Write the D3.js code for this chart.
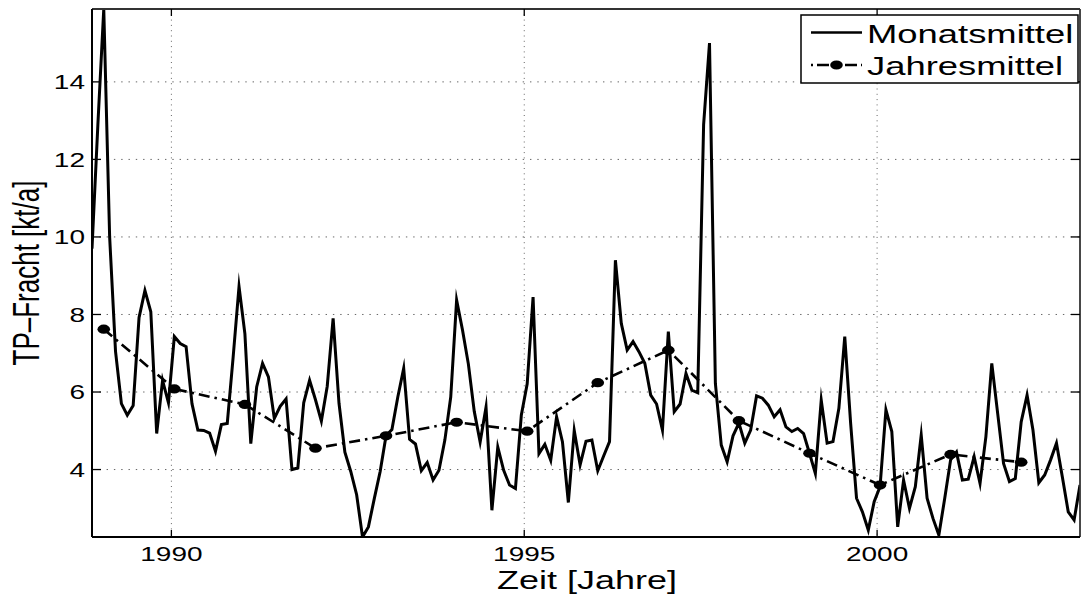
<!DOCTYPE html>
<html><head><meta charset="utf-8">
<script src="https://cdn.jsdelivr.net/npm/d3@7"></script>
<style>body{margin:0;background:#fff}svg{display:block}</style>
</head><body>
<svg id="c" width="1081" height="594"></svg>
<script>
// ---- data ----
const monthStart = 1988.875; // first monthly value (Nov 1988, mid-month)
const monthly = [
  9.7, 12.9, 15.88, 10.0, 7.05, 5.7, 5.4, 5.65, 7.92, 8.62, 8.07, 4.93,
  6.3, 5.72, 7.43, 7.25, 7.17, 5.7, 5.02, 5.01, 4.94, 4.47, 5.16, 5.19,
  6.9, 8.72, 7.5, 4.67, 6.13, 6.74, 6.39, 5.32, 5.63, 5.82, 4.0, 4.04,
  5.72, 6.3, 5.8, 5.25, 6.15, 7.9, 5.71, 4.45, 3.95, 3.35, 2.26, 2.52,
  3.25, 3.95, 4.87, 5.03, 5.87, 6.61, 4.78, 4.66, 3.97, 4.18, 3.73, 3.98,
  4.76, 5.87, 8.37, 7.6, 6.72, 5.5, 4.71, 5.61, 2.95, 4.58, 3.98, 3.6,
  3.51, 5.4, 6.21, 8.45, 4.41, 4.65, 4.24, 5.36, 4.71, 3.15, 5.01, 4.12,
  4.73, 4.76, 3.97, 4.35, 4.72, 9.4, 7.77, 7.08, 7.3, 7.04, 6.74, 5.92,
  5.69, 5.02, 7.56, 5.49, 5.69, 6.48, 6.05, 5.98, 12.9, 15.0, 6.22, 4.63,
  4.2, 4.87, 5.2, 4.68, 5.02, 5.9, 5.84, 5.66, 5.36, 5.54, 5.1, 4.98,
  5.06, 4.93, 4.42, 3.9, 5.79, 4.68, 4.72, 5.58, 7.43, 5.19, 3.26, 2.91,
  2.44, 3.17, 3.56, 5.54, 4.98, 2.52, 3.73, 3.0, 3.56, 4.89, 3.26, 2.74,
  2.31, 3.26, 4.25, 4.45, 3.73, 3.75, 4.33, 3.64, 4.85, 6.74, 5.45, 4.16,
  3.69, 3.77, 5.23, 5.92, 5.02, 3.66, 3.86, 4.25, 4.68, 3.81, 2.91, 2.7,
  3.6
];
const years = [1989,1990,1991,1992,1993,1994,1995,1996,1997,1998,1999,2000,2001,2002];
const annual = [7.62,6.08,5.68,4.55,4.87,5.22,4.99,6.24,7.08,5.26,4.42,3.60,4.39,4.19];
const xTicks = [1990,1995,2000];
const yTicks = [4,6,8,10,12,14];
const legendLabels = ["Monatsmittel","Jahresmittel"];
const xLabel = "Zeit [Jahre]";
const yLabel = "TP\u2013Fracht [kt/a]";

// ---- layout ----
const L=92, R=1080, T=9, B=537;
const SX=1.4; // horizontal text stretch
const FONT = "'Liberation Sans', Arial, Helvetica, sans-serif";

const mData = monthly.map((v,i)=>({t: monthStart + i/12, v}));
const aData = annual.map((v,i)=>({t: years[i] + 0.5/12, v}));

const x = d3.scaleLinear().domain(d3.extent(mData,d=>d.t)).range([L,R]);
const y = d3.scaleLinear().domain(d3.extent(monthly)).range([B,T]);

const svg = d3.select("#c");
svg.append("rect").attr("width",1081).attr("height",594).attr("fill","#fff");
svg.append("defs").append("clipPath").attr("id","clip")
  .append("rect").attr("x",L).attr("y",T).attr("width",R-L).attr("height",B-T);

// grid
const grid = svg.append("g");
grid.selectAll(".gx").data(xTicks).join("line")
  .attr("x1",d=>x(d)).attr("x2",d=>x(d)).attr("y1",T).attr("y2",B)
  .attr("stroke","#666").attr("stroke-width",1).attr("stroke-dasharray","1,4.3");
grid.selectAll(".gy").data(yTicks).join("line")
  .attr("y1",d=>y(d)).attr("y2",d=>y(d)).attr("x1",L).attr("x2",R)
  .attr("stroke","#666").attr("stroke-width",1).attr("stroke-dasharray","1.4,5.9");

// data
const plot = svg.append("g").attr("clip-path","url(#clip)");
plot.append("path").datum(mData)
  .attr("d", d3.line().x(d=>x(d.t)).y(d=>y(d.v)))
  .attr("fill","none").attr("stroke","#000").attr("stroke-width",3)
  .attr("stroke-linejoin","miter").attr("stroke-miterlimit",10);
plot.append("path").datum(aData)
  .attr("d", d3.line().x(d=>x(d.t)).y(d=>y(d.v)))
  .attr("fill","none").attr("stroke","#000").attr("stroke-width",2.6)
  .attr("stroke-dasharray","11,5,2.5,5");
plot.selectAll(".mk").data(aData).join("ellipse")
  .attr("cx",d=>x(d.t)).attr("cy",d=>y(d.v)).attr("rx",6.3).attr("ry",4.6)
  .attr("fill","#000");

// axes box
const ax = svg.append("g");
ax.append("line").attr("x1",L).attr("x2",R).attr("y1",T).attr("y2",T).attr("stroke","#333").attr("stroke-width",1.8);
ax.append("line").attr("x1",R).attr("x2",R).attr("y1",T).attr("y2",B).attr("stroke","#333").attr("stroke-width",1.8);
ax.append("line").attr("x1",L).attr("x2",R).attr("y1",B).attr("y2",B).attr("stroke","#000").attr("stroke-width",2);
ax.append("line").attr("x1",L).attr("x2",L).attr("y1",T).attr("y2",B).attr("stroke","#000").attr("stroke-width",2);

// ticks (inward, all four sides)
xTicks.forEach(v=>{
  ax.append("line").attr("x1",x(v)).attr("x2",x(v)).attr("y1",B).attr("y2",B-7).attr("stroke","#000").attr("stroke-width",1.3);
  ax.append("line").attr("x1",x(v)).attr("x2",x(v)).attr("y1",T).attr("y2",T+7).attr("stroke","#000").attr("stroke-width",1.3);
});
yTicks.forEach(v=>{
  ax.append("line").attr("x1",L).attr("x2",L+9).attr("y1",y(v)).attr("y2",y(v)).attr("stroke","#000").attr("stroke-width",1.3);
  ax.append("line").attr("x1",R).attr("x2",R-9).attr("y1",y(v)).attr("y2",y(v)).attr("stroke","#000").attr("stroke-width",1.3);
});

// tick labels
svg.append("g").selectAll("text").data(xTicks).join("text")
  .attr("transform",d=>`translate(${x(d)},560.5) scale(${SX},1)`)
  .attr("text-anchor","middle").attr("font-family",FONT).attr("font-size",20)
  .attr("fill","#000").text(d=>d);
svg.append("g").selectAll("text").data(yTicks).join("text")
  .attr("transform",d=>`translate(85,${y(d)+7.2}) scale(${SX},1)`)
  .attr("text-anchor","end").attr("font-family",FONT).attr("font-size",20)
  .attr("fill","#000").text(d=>d);

// axis labels
svg.append("text").attr("transform",`translate(587,588.5) scale(1.44,1)`)
  .attr("text-anchor","middle").attr("font-family",FONT).attr("font-size",25)
  .attr("fill","#000").text(xLabel);
svg.append("text").attr("transform",`translate(38.5,${(T+B)/2}) scale(${SX},1) rotate(-90)`)
  .attr("text-anchor","middle").attr("font-family",FONT).attr("font-size",26)
  .attr("fill","#000").text(yLabel);

// legend
const lg = svg.append("g");
lg.append("rect").attr("x",801).attr("y",15).attr("width",277).attr("height",68)
  .attr("fill","#fff").attr("stroke","#000").attr("stroke-width",1.5);
lg.append("line").attr("x1",811).attr("x2",862).attr("y1",32.5).attr("y2",32.5)
  .attr("stroke","#000").attr("stroke-width",2.6);
lg.append("line").attr("x1",811).attr("x2",862).attr("y1",65).attr("y2",65)
  .attr("stroke","#000").attr("stroke-width",2.6).attr("stroke-dasharray","2,4,12,16,12,4,2");
lg.append("ellipse").attr("cx",836.5).attr("cy",65).attr("rx",6.3).attr("ry",4.6).attr("fill","#000");
lg.selectAll("text").data(legendLabels).join("text")
  .attr("transform",(d,i)=>`translate(867,${i===0?42.5:75}) scale(${SX},1)`)
  .attr("font-family",FONT).attr("font-size",26).attr("fill","#000").text(d=>d);
</script>
</body></html>
